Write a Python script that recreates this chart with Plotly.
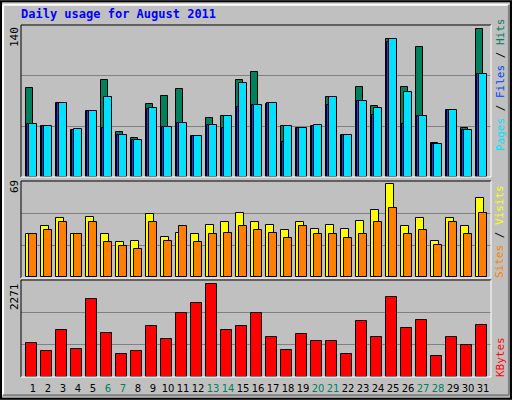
import plotly.graph_objects as go

days = list(range(1, 32))
weekend = [6, 7, 13, 14, 20, 21, 27, 28]

hits = [84, 48, 70, 44, 62, 92, 43, 37, 69, 77, 83, 39, 56, 58, 92, 99,
        69, 48, 46, 48, 76, 40, 85, 67, 131, 85, 123, 32, 63, 46, 140]
files = [50, 48, 70, 44, 62, 46, 40, 35, 64, 47, 51, 39, 49, 46, 66, 68,
         70, 33, 46, 48, 68, 40, 72, 59, 128, 50, 58, 31, 63, 44, 97]
pages = [50, 48, 70, 45, 62, 76, 40, 35, 65, 47, 51, 39, 49, 58, 89, 68,
         70, 48, 46, 49, 76, 40, 72, 65, 131, 80, 58, 31, 63, 44, 97]
visits = [32, 38, 44, 32, 45, 32, 26, 27, 47, 30, 33, 32, 39, 41, 48, 41,
          39, 35, 41, 36, 39, 36, 42, 50, 69, 38, 44, 27, 44, 38, 59]
sites = [32, 35, 41, 32, 41, 26, 23, 21, 41, 27, 38, 26, 32, 33, 38, 35,
         33, 29, 38, 32, 32, 29, 32, 41, 51, 32, 35, 24, 41, 32, 48]
kbytes = [829, 630, 1152, 680, 1923, 1077, 555, 630, 1251, 928, 1575, 1823,
          2271, 1152, 1251, 1575, 978, 655, 1053, 879, 879, 555, 1376, 978,
          1948, 1202, 1401, 506, 978, 779, 1276]

BG = "#C0C0C0"
ln = dict(color="black", width=1)
fig = go.Figure()

def bars(vals, color, off, w, ax):
    fig.add_trace(go.Bar(x=days, y=vals, offset=off, width=w, marker_color=color,
                         marker_line=ln, xaxis="x" if ax == "y" else "x" + ax[1:],
                         yaxis=ax, showlegend=False, hoverinfo="skip"))

bars(hits, "#00805C", -0.49, 0.47, "y")
bars(files, "#0040FF", -0.38, 0.14, "y")
bars(pages, "#00E0FF", -0.25, 0.49, "y")
bars(visits, "#FFFF00", -0.49, 0.53, "y2")
bars(sites, "#FF8000", -0.25, 0.49, "y2")
bars(kbytes, "#FF0000", -0.45, 0.69, "y3")

xr = [0.2, 31.53]
xd = [21 / 512, 491 / 512]
ticktext = [f"<span style='color:#00805C'>{d}</span>" if d in weekend else str(d) for d in days]
common_x = dict(range=xr, domain=xd, showgrid=False, zeroline=False, fixedrange=True)
fig.update_layout(
    xaxis=dict(common_x, anchor="y", showticklabels=False, ticks=""),
    xaxis2=dict(common_x, anchor="y2", showticklabels=False, ticks=""),
    xaxis3=dict(common_x, anchor="y3", tickvals=days, ticktext=ticktext, ticks="",
                tickangle=0, ticklabelstandoff=4,
                tickfont=dict(family="DejaVu Sans", size=10, color="black")),
)

def yax(top, lo, hi, vmax):
    rng = vmax * top
    return dict(domain=[lo, hi], range=[0, rng], tickvals=[rng / 3, rng * 2 / 3],
                showticklabels=False, ticks="", gridcolor="#808080", gridwidth=1,
                zeroline=False, fixedrange=True)

fig.update_layout(
    yaxis=dict(yax(152 / 148, 1 - 177 / 400, 1 - 25 / 400, 140), anchor="x"),
    yaxis2=dict(yax(96 / 92.7, 1 - 277 / 400, 1 - 181 / 400, 69), anchor="x2"),
    yaxis3=dict(yax(97 / 92.7, 1 - 377 / 400, 1 - 280 / 400, 2271), anchor="x3"),
)

# plot frames: dark top/left, white bottom/right
shapes = []
for y0, y1 in [(25, 177), (181, 278), (280, 377)]:
    a, b = xd[0], xd[1]
    t, u = 1 - y0 / 400, 1 - y1 / 400
    shapes += [
        dict(type="line", xref="paper", yref="paper", x0=a, x1=b, y0=t, y1=t, line=dict(color="black", width=1)),
        dict(type="line", xref="paper", yref="paper", x0=a, x1=a, y0=u, y1=t, line=dict(color="black", width=1)),
        dict(type="line", xref="paper", yref="paper", x0=a, x1=b, y0=u, y1=u, line=dict(color="white", width=1)),
        dict(type="line", xref="paper", yref="paper", x0=b, x1=b, y0=u, y1=t, line=dict(color="white", width=1)),
    ]
shapes += [
    dict(type="rect", xref="paper", yref="paper", x0=0.002, x1=0.998, y0=0.003, y1=0.997,
         line=dict(color="black", width=2)),
    dict(type="line", xref="paper", yref="paper", x0=0.006, x1=0.994, y0=0.988, y1=0.988,
         line=dict(color="white", width=2)),
    dict(type="line", xref="paper", yref="paper", x0=0.006, x1=0.006, y0=0.012, y1=0.988,
         line=dict(color="white", width=2)),
    dict(type="line", xref="paper", yref="paper", x0=0.006, x1=0.994, y0=0.012, y1=0.012,
         line=dict(color="#808080", width=2)),
    dict(type="line", xref="paper", yref="paper", x0=0.994, x1=0.994, y0=0.012, y1=0.988,
         line=dict(color="#808080", width=2)),
]

mono = "DejaVu Sans Mono"
ann = [
    dict(text="<b>Daily usage for August 2011</b>", x=19 / 512, y=1 - 14 / 400,
         font=dict(family=mono, size=12, color="#0000FF")),
    dict(text="140", x=14 / 512, y=1 - 37 / 400, textangle=-90, font=dict(family=mono, size=11, color="black")),
    dict(text="69", x=14 / 512, y=1 - 187 / 400, textangle=-90, font=dict(family=mono, size=11, color="black")),
    dict(text="2271", x=14 / 512, y=1 - 297 / 400, textangle=-90, font=dict(family=mono, size=11, color="black")),
    dict(text="<span style='color:#00E0FF'>Pages</span> / <span style='color:#0040FF'>Files</span> / "
              "<span style='color:#00805C'>Hits</span>",
         x=500 / 512, y=1 - 85 / 400, textangle=-90, font=dict(family=mono, size=11, color="black")),
    dict(text="<span style='color:#FF8000'>Sites</span> / <span style='color:#FFFF00'>Visits</span>",
         x=500 / 512, y=1 - 232 / 400, textangle=-90, font=dict(family=mono, size=11, color="black")),
    dict(text="KBytes", x=500 / 512, y=1 - 357 / 400, textangle=-90, font=dict(family=mono, size=11, color="#FF0000")),
]
for a in ann:
    a.update(xref="paper", yref="paper", showarrow=False, xanchor="center", yanchor="middle")
ann[0].update(xanchor="left")

fig.update_layout(width=512, height=400, margin=dict(l=0, r=0, t=0, b=0),
                  paper_bgcolor=BG, plot_bgcolor=BG, barmode="overlay", bargap=0,
                  shapes=shapes, annotations=ann)

fig.write_html("out.html", config={"displayModeBar": False},
               post_script="document.body.style.margin='0';")
